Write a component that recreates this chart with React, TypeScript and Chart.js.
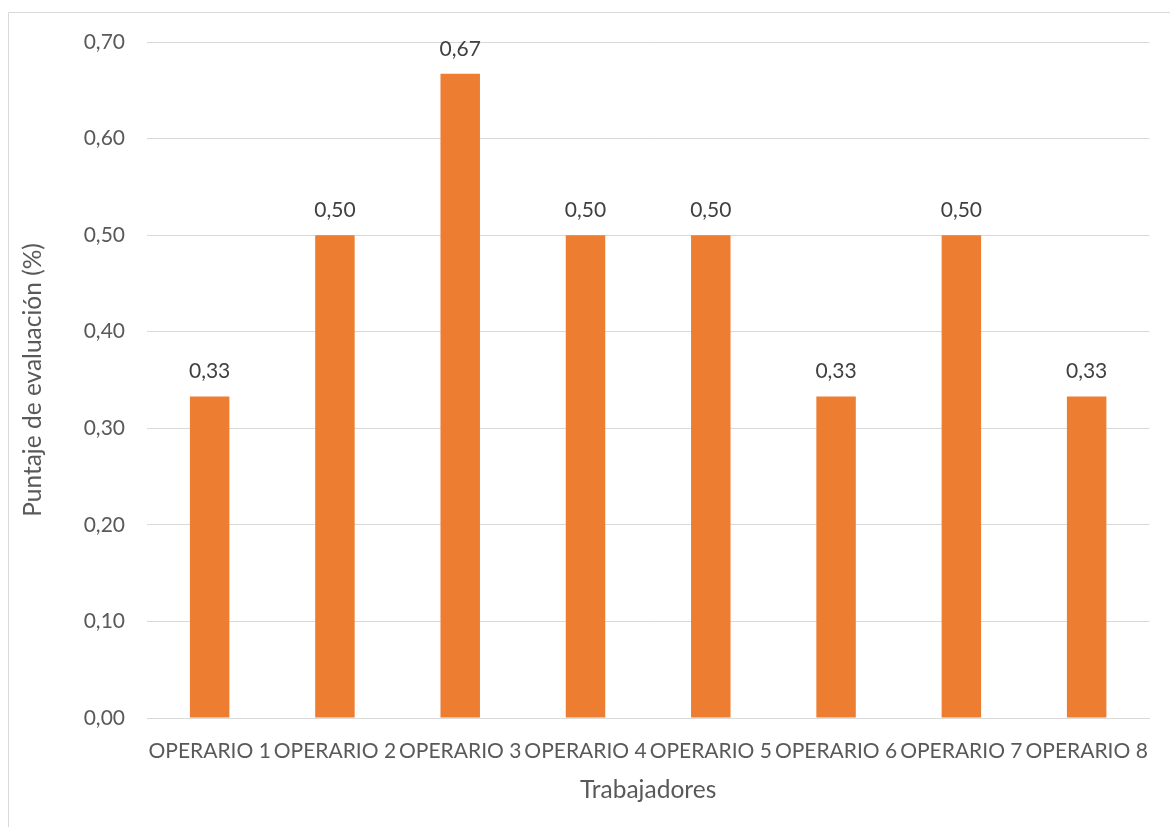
import React, { useEffect, useRef } from "react";
import { Chart, registerables } from "chart.js";

Chart.register(...registerables);

const categories = [
  "OPERARIO 1",
  "OPERARIO 2",
  "OPERARIO 3",
  "OPERARIO 4",
  "OPERARIO 5",
  "OPERARIO 6",
  "OPERARIO 7",
  "OPERARIO 8",
];
const scores = [0.333, 0.5, 0.667, 0.5, 0.5, 0.333, 0.5, 0.333];
const yTitle = "Puntaje de evaluación (%)";
const xTitle = "Trabajadores";

const FONT = "Lato";
const FS = 21;
const TFS = 24.5;
const fmt = (v: number) => v.toFixed(2).replace(".", ",");

const frame = {
  id: "frame",
  beforeDraw(chart: any) {
    const ctx = chart.ctx;
    ctx.save();
    ctx.fillStyle = "#ffffff";
    ctx.fillRect(0, 0, chart.width, chart.height);
    ctx.strokeStyle = "#d9d9d9";
    ctx.lineWidth = 1;
    ctx.beginPath();
    ctx.moveTo(8.5, chart.height);
    ctx.lineTo(8.5, 12.5);
    ctx.lineTo(chart.width, 12.5);
    ctx.stroke();
    ctx.restore();
  },
};

const labelsPlugin = {
  id: "valueLabels",
  afterDatasetsDraw(chart: any) {
    const ctx = chart.ctx;
    const meta = chart.getDatasetMeta(0);
    ctx.save();
    ctx.font = `${FS}px ${FONT}`;
    ctx.fillStyle = "#404040";
    ctx.textAlign = "center";
    ctx.textBaseline = "alphabetic";
    meta.data.forEach((bar: any, i: number) => {
      ctx.fillText(fmt(scores[i]), bar.x, bar.y - 18);
    });
    ctx.restore();
  },
};

export default function App() {
  const ref = useRef<HTMLCanvasElement>(null);
  useEffect(() => {
    if (!ref.current) return;
    const chart = new Chart(ref.current, {
      type: "bar",
      data: {
        labels: categories,
        datasets: [
          {
            data: scores,
            backgroundColor: "#ED7D31",
            borderWidth: 0,
            categoryPercentage: 1,
            barPercentage: 0.315,
          },
        ],
      },
      options: {
        responsive: false,
        animation: false,
        layout: { padding: { left: 0, right: 19, top: 42, bottom: 0 } },
        plugins: {
          legend: { display: false },
          tooltip: { enabled: false },
        },
        scales: {
          x: {
            grid: { display: false, drawTicks: false },
            border: { display: true, color: "#d9d9d9", width: 1 },
            ticks: {
              color: "#595959",
              font: { family: FONT, size: FS },
              padding: 21,
              maxRotation: 0,
              minRotation: 0,
              autoSkip: false,
            },
            title: {
              display: true,
              text: xTitle,
              color: "#595959",
              font: { family: FONT, size: TFS },
              padding: { top: 0, bottom: 22 },
            },
            afterFit(scale: any) {
              scale.height = 109;
            },
          },
          y: {
            min: 0,
            max: 0.7,
            grid: { color: "#d9d9d9", lineWidth: 1, drawTicks: false },
            border: { display: false },
            ticks: {
              stepSize: 0.1,
              color: "#595959",
              font: { family: FONT, size: FS },
              padding: 22,
              callback: (v: any) => fmt(Number(v)),
            },
            title: {
              display: true,
              text: yTitle,
              color: "#595959",
              font: { family: FONT, size: TFS },
              padding: { top: 18, bottom: 0 },
            },
            afterFit(scale: any) {
              scale.width = 147;
            },
          },
        },
      },
      plugins: [frame, labelsPlugin],
    });
    return () => chart.destroy();
  }, []);
  return (
    <div style={{ position: "fixed", left: 0, top: 0, width: 1170, height: 827 }}>
      <canvas ref={ref} width={1170} height={827} style={{ display: "block" }} />
    </div>
  );
}
